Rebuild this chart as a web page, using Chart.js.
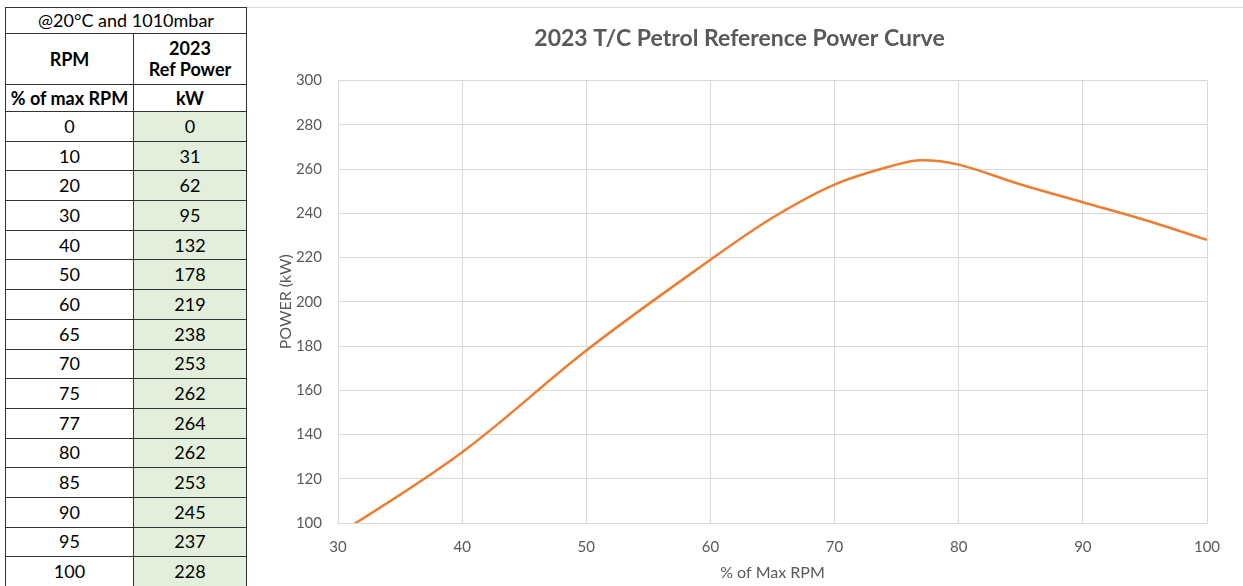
<!DOCTYPE html>
<html>
<head>
<meta charset="utf-8">
<script src="https://cdn.jsdelivr.net/npm/chart.js@4/dist/chart.umd.min.js"></script>
<style>
    html, body { margin: 0; padding: 0; background: #fff; overflow: hidden; }
    body { width: 1243px; height: 586px; position: relative; font-family: Lato, 'Open Sans', sans-serif; }
    .topline { position: absolute; left: 245px; top: 7px; width: 998px; height: 1px; background: #d9d9d9; }
    table.ref { position: absolute; left: 5px; top: 7px; border-collapse: collapse; font-size: 18px; color: #000; }
    table.ref td { border: 1px solid #333; text-align: center; padding: 0; line-height: 21px; }
    table.ref td.c1 { width: 127px; }
    table.ref td.c2 { width: 112px; }
    table.ref td.green { background: #e2efda; }
    table.ref tr.hdr td { font-weight: bold; }
    .wrap { position: absolute; left: 250px; top: 0; width: 993px; height: 586px; }
</style>
</head>
<body>
<div class="topline"></div>
<table class="ref" id="refTable"></table>
<div class="wrap"><canvas id="powerChart" width="993" height="586"></canvas></div>
<script>
    // table / series data
    const rpmPct = [0, 10, 20, 30, 40, 50, 60, 65, 70, 75, 77, 80, 85, 90, 95, 100];
    const refPower = [0, 31, 62, 95, 132, 178, 219, 238, 253, 262, 264, 262, 253, 245, 237, 228];
    const xTicks = [30, 40, 50, 60, 70, 80, 90, 100];
    const yTicks = [100, 120, 140, 160, 180, 200, 220, 240, 260, 280, 300];

    const textGrey = '#595959';
    const gridGrey = '#d9d9d9';

    // Build the table on the left
    const table = document.getElementById('refTable');
    let html = '<tr style="height:26px"><td colspan="2">@20°C and 1010mbar</td></tr>';
    html += '<tr class="hdr" style="height:51px"><td class="c1">RPM</td><td class="c2">2023<br>Ref Power</td></tr>';
    html += '<tr class="hdr" style="height:27px"><td class="c1">% of max RPM</td><td class="c2">kW</td></tr>';
    rpmPct.forEach((r, i) => {
        html += `<tr style="height:29.7px"><td class="c1">${r}</td><td class="c2 green">${refPower[i]}</td></tr>`;
    });
    table.innerHTML = html;

    const points = rpmPct.map((r, i) => ({ x: r, y: refPower[i] }));

    new Chart(document.getElementById('powerChart'), {
        type: 'line',
        data: {
            datasets: [{
                label: '2023 Ref Power',
                data: points,
                borderColor: '#ed7d31',
                borderWidth: 2.5,
                pointRadius: 0,
                tension: 0.35,
                fill: false
            }]
        },
        options: {
            responsive: false,
            animation: false,
            layout: { padding: { left: 22, right: 36, top: 0, bottom: 0 } },
            plugins: {
                legend: { display: false },
                tooltip: { enabled: false },
                title: {
                    display: true,
                    text: '2023 T/C Petrol Reference Power Curve',
                    color: textGrey,
                    font: { family: 'Lato', size: 23, weight: 'bold' },
                    padding: { top: 25, bottom: 28 }
                }
            },
            scales: {
                x: {
                    type: 'linear',
                    min: 30,
                    max: 100,
                    afterBuildTicks: (axis) => { axis.ticks = xTicks.map(v => ({ value: v })); },
                    afterFit: (axis) => { axis.height = 63; },
                    grid: { color: gridGrey, drawTicks: false },
                    border: { color: gridGrey },
                    ticks: { color: textGrey, padding: 15, maxRotation: 0, font: { family: 'Lato', size: 15 } },
                    title: {
                        display: true,
                        text: '% of Max RPM',
                        color: textGrey,
                        padding: { top: 1 },
                        font: { family: 'Lato', size: 16 }
                    }
                },
                y: {
                    min: 100,
                    max: 300,
                    afterBuildTicks: (axis) => { axis.ticks = yTicks.map(v => ({ value: v })); },
                    afterFit: (axis) => { axis.width = 66; },
                    grid: { color: gridGrey, drawTicks: false },
                    border: { color: gridGrey },
                    ticks: { color: textGrey, padding: 16, font: { family: 'Lato', size: 15 } },
                    title: {
                        display: true,
                        text: 'POWER (kW)',
                        color: textGrey,
                        padding: { bottom: 4 },
                        font: { family: 'Lato', size: 16 }
                    }
                }
            }
        }
    });
</script>
</body>
</html>
